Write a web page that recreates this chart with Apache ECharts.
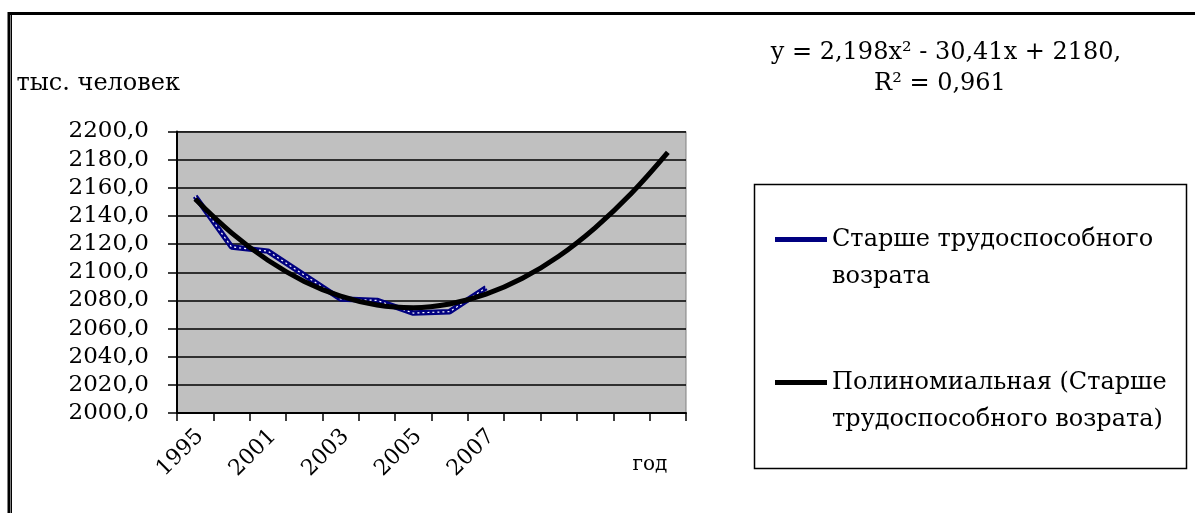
<!DOCTYPE html>
<html>
<head>
<meta charset="utf-8">
<script src="https://cdn.jsdelivr.net/npm/echarts@6/dist/echarts.min.js"></script>
<style>
html,body{margin:0;padding:0;background:#fff;}
#chart{width:1195px;height:513px;}
</style>
</head>
<body>
<div id="chart"></div>
<script>
// ---- data ----
const categories = ['1995','2000','2001','2002','2003','2004','2005','2006','2007','','','','',''];
const seriesName = 'Старше трудоспособного возрата';
const trendName = 'Полиномиальная (Старше трудоспособного возрата)';
const population = [2154, 2118, 2115, 2098, 2081, 2080, 2071, 2072, 2089];
const trendValues = [2152, 2128, 2108.5, 2093.5, 2083, 2076.7, 2074.8, 2077.4, 2084.4, 2095.7, 2111.4, 2131.6, 2156.1, 2185.1];
const equationLine1 = 'y = 2,198x² - 30,41x + 2180,';
const equationLine2 = 'R² = 0,961';
const yAxisTitle = 'тыс. человек';
const xAxisTitle = 'год';
const legendLabels = {};
legendLabels[seriesName] = 'Старше трудоспособного\nвозрата';
legendLabels[trendName] = 'Полиномиальная (Старше\nтрудоспособного возрата)';

const FONT = '"DejaVu Serif", "Liberation Serif", serif';
const chart = echarts.init(document.getElementById('chart'));
chart.setOption({
  animation: false,
  backgroundColor: '#ffffff',
  grid: {
    left: 177, right: 509, top: 131.5, bottom: 100,
    show: true, backgroundColor: '#c0c0c0', borderColor: '#808080', borderWidth: 1
  },
  xAxis: {
    type: 'category',
    data: categories,
    boundaryGap: true,
    axisLine: { lineStyle: { color: '#000', width: 2 } },
    axisTick: { show: true, interval: 0, length: 8, lineStyle: { color: '#000', width: 1.5 } },
    axisLabel: {
      interval: 1, rotate: 45, margin: 25,
      padding: [0, -7, 0, 0],
      fontFamily: FONT, fontSize: 22, color: '#000'
    },
    splitLine: { show: false }
  },
  yAxis: {
    type: 'value',
    min: 2000, max: 2200, interval: 20,
    name: yAxisTitle,
    nameLocation: 'end',
    nameGap: 36,
    nameTextStyle: { align: 'right', fontFamily: FONT, fontSize: 24, color: '#000', padding: [0, -3, 0, 0] },
    axisLine: { show: true, lineStyle: { color: '#000', width: 2 } },
    axisTick: { show: true, length: 9, lineStyle: { color: '#000', width: 1.5 } },
    axisLabel: {
      margin: 28, fontFamily: FONT, fontSize: 23, color: '#000',
      formatter: function (v) { return v.toFixed(1).replace('.', ','); }
    },
    splitLine: { show: true, lineStyle: { color: '#000', width: 1.5 } }
  },
  legend: {
    orient: 'vertical',
    left: 754, top: 184,
    padding: [0, 0, 0, 21],
    itemGap: 32,
    itemWidth: 52, itemHeight: 5,
    icon: 'rect',
    selectedMode: false,
    data: [seriesName, trendName],
    formatter: function (n) { return '\n' + legendLabels[n]; },
    textStyle: { fontFamily: FONT, fontSize: 24, color: '#000', lineHeight: 37 }
  },
  graphic: [
    { type: 'rect', shape: { x: 9, y: 13.5, width: 1200, height: 600 }, style: { fill: null, stroke: '#000', lineWidth: 3 }, silent: true },
    { type: 'line', shape: { x1: 11.5, y1: 15, x2: 11.5, y2: 513 }, style: { stroke: '#000', lineWidth: 1 }, silent: true },
    { type: 'rect', shape: { x: 754.5, y: 184.5, width: 432, height: 284 }, style: { fill: null, stroke: '#000', lineWidth: 1.5 }, silent: true, z: -1 },
    { type: 'text', style: { text: equationLine1, x: 946, y: 53, align: 'center', verticalAlign: 'middle', font: '24px ' + FONT, fill: '#000' }, silent: true },
    { type: 'text', style: { text: equationLine2, x: 940, y: 84, align: 'center', verticalAlign: 'middle', font: '24px ' + FONT, fill: '#000' }, silent: true },
    { type: 'text', style: { text: xAxisTitle, x: 650, y: 465, align: 'center', verticalAlign: 'middle', font: '20px ' + FONT, fill: '#000' }, silent: true }
  ],
  series: [
    {
      name: seriesName, type: 'line', data: population,
      symbol: 'none', smooth: false,
      lineStyle: { color: '#000080', width: 5.5 },
      itemStyle: { color: '#000080' }
    },
    {
      name: seriesName, type: 'line', data: population,
      symbol: 'none', smooth: false, silent: true,
      lineStyle: { color: '#ffffff', width: 1.2, type: [2, 3] },
      itemStyle: { color: '#000080' }
    },
    {
      name: trendName, type: 'line', data: trendValues,
      symbol: 'none', smooth: 0.4,
      lineStyle: { color: '#000', width: 5 },
      itemStyle: { color: '#000' }
    }
  ]
});
</script>
</body>
</html>
